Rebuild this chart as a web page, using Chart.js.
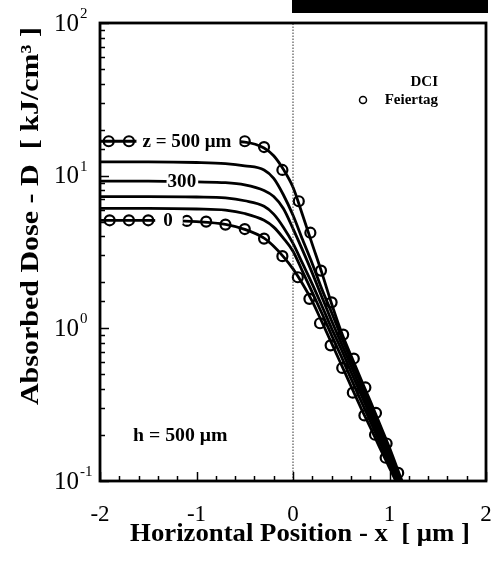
<!DOCTYPE html>
<html>
<head>
<meta charset="utf-8">
<script src="https://cdn.jsdelivr.net/npm/chart.js@4.4.1/dist/chart.umd.min.js"></script>
<style>
  html, body { margin: 0; padding: 0; background: #fff; }
  canvas { display: block; }
</style>
</head>
<body>
<canvas id="doseChart" width="504" height="566"></canvas>
<script>
// Absorbed dose vs horizontal position, DCI curves for several depths z (h = 500 um)

// x grid shared by the DCI curves [um]
const xGrid = [-2, -1.5, -1, -0.7, -0.5, -0.3, -0.2, -0.1, 0, 0.1, 0.2, 0.3, 0.4, 0.5, 0.6, 0.7, 0.8, 0.9, 1.0, 1.1, 1.2];

// DCI dose [kJ/cm3] for z = 0 ... 500 um
const dciZ0   = [5.1, 5.1, 5.0, 4.8, 4.45, 3.9, 3.45, 2.95, 2.45, 1.95, 1.5, 1.1, 0.8, 0.58, 0.42, 0.305, 0.225, 0.165, 0.122, 0.09, 0.066];
const dciZ100 = [6.1, 6.1, 6.05, 5.95, 5.65, 5.1, 4.6, 3.9, 3.2, 2.35, 1.72, 1.25, 0.9, 0.655, 0.47, 0.34, 0.247, 0.178, 0.13, 0.094, 0.068];
const dciZ200 = [7.3, 7.3, 7.25, 7.15, 6.85, 6.3, 5.6, 4.6, 3.6, 2.65, 1.95, 1.4, 1.0, 0.73, 0.52, 0.375, 0.268, 0.19, 0.137, 0.098, 0.07];
const dciZ300 = [9.2, 9.2, 9.1, 9.0, 8.7, 8.0, 7.3, 6.1, 4.5, 3.24, 2.3, 1.6, 1.12, 0.8, 0.57, 0.405, 0.288, 0.204, 0.145, 0.102, 0.072];
const dciZ400 = [12.3, 12.3, 12.2, 12.0, 11.6, 10.9, 9.6, 7.5, 5.5, 3.8, 2.65, 1.8, 1.27, 0.88, 0.62, 0.44, 0.31, 0.219, 0.155, 0.107, 0.074];
const dciZ500 = [16.8, 16.8, 16.8, 16.8, 16.6, 15.2, 13.5, 11.0, 8.4, 5.5, 3.55, 2.3, 1.45, 0.95, 0.665, 0.47, 0.335, 0.235, 0.165, 0.112, 0.077];

// Feiertag points
const feierZ500X = [-1.91, -1.70, -0.5, -0.3, -0.11, 0.06, 0.18, 0.29, 0.40, 0.52, 0.63, 0.75, 0.86, 0.97, 1.09];
const feierZ500Y = [16.8, 16.8, 16.8, 15.4, 10.9, 6.8, 4.23, 2.39, 1.48, 0.91, 0.634, 0.41, 0.279, 0.176, 0.113];
const feierZ0X = [-1.90, -1.70, -1.50, -1.10, -0.90, -0.70, -0.50, -0.30, -0.11, 0.05, 0.17, 0.28, 0.39, 0.51, 0.62, 0.74, 0.85, 0.96];
const feierZ0Y = [5.1, 5.1, 5.1, 5.05, 5.0, 4.78, 4.47, 3.87, 2.97, 2.16, 1.56, 1.08, 0.774, 0.55, 0.379, 0.269, 0.201, 0.142];

// dotted reference line at x = 0
const zeroLineX = [0, 0];
const zeroLineY = [0.1, 100];

// axis ticks
const xTickLabels = [-2, -1, 0, 1, 2];
const yTickExps = [-1, 0, 1, 2];

// in-plot curve labels
const curveLabels = ['z = 500 \u03bcm', '300', '0'];
const curveLabelAt = [
  { x: -1.56, y: 16.8, padL: 6, padR: 8 },
  { x: -1.30, y: 9.2, padL: 1, padR: 2 },
  { x: -1.345, y: 5.1, padL: 8, padR: 10 }
];

const SERIF = '"Liberation Serif", "Times New Roman", serif';
const toPts = (xs, ys) => xs.map((x, i) => ({ x, y: ys[i] }));

function curve(vals) {
  return {
    data: toPts(xGrid, vals),
    borderColor: '#000', borderWidth: 2.8,
    pointRadius: 0, cubicInterpolationMode: 'monotone', fill: false
  };
}

function circles(xs, ys) {
  return {
    data: toPts(xs, ys),
    showLine: false,
    pointStyle: 'circle', pointRadius: 5, pointBorderWidth: 2.2,
    pointBorderColor: '#000', pointBackgroundColor: '#fff'
  };
}

// text stretched horizontally a little, like the scanned Times Bold
function wideText(ctx, txt, x, y, sx, align) {
  const w = ctx.measureText(txt).width * sx;
  const x0 = align === 'right' ? x - w : align === 'center' ? x - w / 2 : x;
  ctx.save();
  ctx.textAlign = 'left';
  ctx.translate(x0, y);
  ctx.scale(sx, 1);
  ctx.fillText(txt, 0, 0);
  ctx.restore();
  return w;
}

const decorations = {
  id: 'decorations',
  beforeDraw(chart) {
    const { ctx } = chart;
    ctx.save();
    ctx.fillStyle = '#000';
    ctx.fillRect(292, 0, 196, 13);
    ctx.restore();
  },
  afterDatasetsDraw(chart) {
    const { ctx, scales: { x, y } } = chart;
    ctx.save();
    ctx.font = 'bold 18px ' + SERIF;
    ctx.textBaseline = 'middle';
    curveLabels.forEach((txt, i) => {
      const p = curveLabelAt[i];
      const px = x.getPixelForValue(p.x), py = y.getPixelForValue(p.y);
      const w = ctx.measureText(txt).width * 1.06;
      ctx.fillStyle = '#fff';
      ctx.fillRect(px - p.padL, py - 4, w + p.padL + p.padR, 8);
      ctx.fillStyle = '#000';
      wideText(ctx, txt, px, py + 1, 1.06, 'left');
    });
    ctx.restore();
  },
  afterDraw(chart) {
    const { ctx, chartArea: a, scales: { x, y } } = chart;
    ctx.save();
    ctx.strokeStyle = '#000';
    // inward ticks
    ctx.lineWidth = 1.5;
    y.ticks.forEach(t => {
      const py = Math.round(y.getPixelForValue(t.value)) + 0.5;
      const lg = Math.log10(t.value);
      const len = Math.abs(lg - Math.round(lg)) < 1e-6 ? 9 : 5;
      ctx.beginPath(); ctx.moveTo(a.left, py); ctx.lineTo(a.left + len, py); ctx.stroke();
    });
    x.ticks.forEach(t => {
      const px = Math.round(x.getPixelForValue(t.value)) + 0.5;
      const len = Math.abs(t.value - Math.round(t.value)) < 1e-6 ? 9 : 5;
      ctx.beginPath(); ctx.moveTo(px, a.bottom); ctx.lineTo(px, a.bottom - len); ctx.stroke();
    });
    // frame
    ctx.lineWidth = 2.8;
    ctx.strokeRect(a.left, a.top, a.right - a.left, a.bottom - a.top);

    // y tick labels 10^n
    ctx.fillStyle = '#000';
    yTickExps.forEach(e => {
      const py = y.getPixelForValue(Math.pow(10, e));
      ctx.font = '25px ' + SERIF;
      ctx.textBaseline = 'middle';
      ctx.textAlign = 'right';
      ctx.fillText('10', 79, py + 1);
      ctx.font = '15px ' + SERIF;
      ctx.textAlign = 'left';
      ctx.fillText(e < 0 ? '-' + Math.abs(e) : String(e), 80, py - 9);
    });

    // axis titles
    ctx.font = 'bold 25px ' + SERIF;
    ctx.textBaseline = 'middle';
    wideText(ctx, 'Horizontal Position - x  [ \u03bcm ]', 300, 535, 1.07, 'center');
    ctx.save();
    ctx.translate(32, 216);
    ctx.rotate(-Math.PI / 2);
    wideText(ctx, 'Absorbed Dose - D  [ kJ/cm\u00b3 ]', 0, 0, 1.2, 'center');
    ctx.restore();

    // legend and note
    ctx.font = 'bold 15px ' + SERIF;
    ctx.textAlign = 'right';
    ctx.fillText('DCI', 438, 82);
    ctx.fillText('Feiertag', 438, 100);
    ctx.beginPath();
    ctx.lineWidth = 1.5;
    ctx.arc(363, 100, 3.5, 0, Math.PI * 2);
    ctx.stroke();
    ctx.font = 'bold 18px ' + SERIF;
    wideText(ctx, 'h = 500 \u03bcm', 133, 436, 1.1, 'left');
    ctx.restore();
  }
};

new Chart(document.getElementById('doseChart'), {
  type: 'line',
  data: {
    datasets: [
      {
        data: toPts(zeroLineX, zeroLineY),
        borderColor: '#333', borderWidth: 1, borderDash: [1.5, 1.5],
        pointRadius: 0, fill: false
      },
      curve(dciZ0), curve(dciZ100), curve(dciZ200),
      curve(dciZ300), curve(dciZ400), curve(dciZ500),
      circles(feierZ0X, feierZ0Y),
      circles(feierZ500X, feierZ500Y)
    ]
  },
  options: {
    responsive: false,
    animation: false,
    devicePixelRatio: 1,
    layout: { padding: { top: 23, right: 18, left: 0, bottom: 0 } },
    plugins: { legend: { display: false }, tooltip: { enabled: false } },
    scales: {
      x: {
        type: 'linear', min: -2, max: 2,
        afterFit: s => { s.height = 85; s.paddingLeft = 0; s.paddingRight = 0; },
        grid: { display: false, drawTicks: false },
        border: { display: false },
        ticks: {
          stepSize: 0.2, autoSkip: false, maxRotation: 0, padding: 20,
          color: '#000', font: { family: SERIF, size: 23 },
          callback: v => {
            const r = Math.round(v);
            return Math.abs(v - r) < 1e-6 && xTickLabels.includes(r) ? String(r) : '';
          }
        }
      },
      y: {
        type: 'logarithmic', min: 0.1, max: 100,
        afterFit: s => { s.width = 100; s.paddingTop = 0; s.paddingBottom = 0; },
        grid: { display: false, drawTicks: false },
        border: { display: false },
        ticks: { display: false }
      }
    }
  },
  plugins: [decorations]
});
</script>
</body>
</html>
